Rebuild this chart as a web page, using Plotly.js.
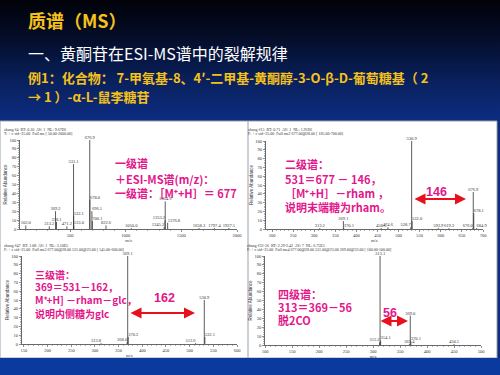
<!DOCTYPE html>
<html><head><meta charset="utf-8">
<script src="https://cdn.plot.ly/plotly-3.0.1.min.js"></script>
<style>
html,body{margin:0;padding:0;width:500px;height:375px;overflow:hidden;
background:linear-gradient(to bottom,#010208 0px,#040c26 35px,#09205c 80px,#0d2d82 121px);}
#chart{width:500px;height:375px;}
</style></head><body><div id="chart"></div>
<script>
// ---------- data ----------
const ms1Mz  = [102.0, 313.2, 369.2, 378.1, 471.2, 531.1, 532.1, 533.0, 676.9, 678.0, 696.1, 700.1, 822.6, 1050.0, 1345.2, 1353.2, 1354.9, 1376.8, 1658.3, 1797.4, 1927.1];
const ms1Int = [4, 3, 20, 8, 3, 73, 15, 4, 100, 33, 20, 9, 4, 1, 2, 10, 31, 7, 1, 1, 1];

const ms2Mz  = [313.2, 369.1, 370.1, 458.6, 474.6, 528.7, 530.9, 532.0, 593.9, 619.3, 676.0, 676.9, 678.1, 684.9];
const ms2Int = [1, 9, 1, 1, 2, 2, 100, 9, 1, 1, 1, 42, 18, 1];

const ms3Mz  = [312.8, 368.0, 369.1, 370.2, 512.6, 530.9, 532.1];
const ms3Int = [1, 2, 100, 8, 1, 50, 8];

const ms4Mz  = [312.2, 313.1, 314.1, 367.4, 369.0, 370.1, 450.1];
const ms4Int = [3, 100, 5, 1, 33, 4, 1];

const headers = [
  ["zhang #4  RT: 0.10  AV: 1  NL: 9.67E6", "T: + c sid=25.00  Full ms [ 50.00-2000.00]"],
  ["zhang #15  RT: 0.71  AV: 1  NL: 1.91E6", "F: + c sid=25.00  Full ms2 677.00@28.00 [ 185.00-700.00]"],
  ["zhang #47  RT: 1.08  AV: 1  NL: 3.10E5", "F: + c sid=25.00  Full ms3 677.00@28.00 531.00@23.00 [ 145.00-600.00]"],
  ["zhang #32-56  RT: 2.29-2.42  AV: 7  NL: 6.75E5", "F: + c sid=25.00  Full ms4 677.00@28.00 531.00@23.00 369.00@33.00 [ 100.00-500.00]"]
];
const xRanges = [[50, 2000], [185, 700], [145, 600], [100, 500]];
const xTickStep = [500, 50, 50, 50];
const yTickStep = 10;

const notes1 = ["一级谱", "＋ESI-MS谱(m/z)：", "一级谱：［M⁺+H］＝ 677"];
const notes2 = ["二级谱：", "531＝677 － 146，", "［M⁺+H］－rham ，", "说明末端糖为rham。"];
const notes3 = ["三级谱：", "369＝531－162，", "M⁺+H] －rham－glc，", "说明内侧糖为glc"];
const notes4 = ["四级谱：", "313＝369－56", "脱2CO"];
const diffLabels = ["146", "162", "56"];

// ---------- helpers ----------
const W = 500, H = 375;
const px = x => x / W;
const py = y => 1 - y / H;
const MAG = '#e3168b', RED = '#e8101c';

function sticks(mz, it) {
  const x = [], y = [];
  mz.forEach((m, i) => { x.push(m, m, null); y.push(0, it[i], null); });
  return {x, y};
}
const spectra = [[ms1Mz, ms1Int], [ms2Mz, ms2Int], [ms3Mz, ms3Int], [ms4Mz, ms4Int]];
const sfx = ['', '2', '3', '4'];
const labelPos = [
  ['top center','top center','top center','top center','top center','top center','top right','top right','top center','top right','top right','top right','top center','top center','top left','top left','top center','top right','top center','top center','top center'],
  ['top center','top center','top right','top center','top center','top left','top center','top right','top center','top center','top left','top center','top right','top right'],
  ['top left','top left','top center','top right','top left','top center','top right'],
  ['top left','top center','top right','top center','top center','top right','top center']
];

const traces = [];
spectra.forEach(([mz, it], k) => {
  const s = sticks(mz, it);
  traces.push({type: 'scatter', mode: 'lines', x: s.x, y: s.y, xaxis: 'x' + sfx[k], yaxis: 'y' + sfx[k],
    line: {color: '#333', width: 0.8}, hoverinfo: 'skip', showlegend: false});
  traces.push({type: 'scatter', mode: 'text', x: mz, y: it, text: mz.map(v => v.toFixed(1)),
    textposition: labelPos[k], textfont: {size: 4.5, family: 'Liberation Serif', color: '#333'},
    xaxis: 'x' + sfx[k], yaxis: 'y' + sfx[k], hoverinfo: 'skip', showlegend: false, cliponaxis: false});
});

// axes geometry (pixels)
const geo = [
  {x0: 20, x1: 237, yb: 229, yt: 140},
  {x0: 265.7, x1: 483, yb: 229, yt: 141},
  {x0: 21.6, x1: 237, yb: 344, yt: 256},
  {x0: 265, x1: 481, yb: 345, yt: 256}
];
const layout = {
  width: W, height: H, margin: {l: 0, r: 0, t: 0, b: 0},
  paper_bgcolor: 'rgba(0,0,0,0)', plot_bgcolor: 'rgba(0,0,0,0)',
  showlegend: false, annotations: [], shapes: []
};
const tf = {size: 4.5, family: 'Liberation Serif', color: '#333'};
geo.forEach((g, k) => {
  layout['xaxis' + sfx[k]] = {
    domain: [px(g.x0), px(g.x1)], range: xRanges[k], anchor: 'y' + sfx[k],
    showline: true, linecolor: '#444', linewidth: 0.8, ticks: 'outside', ticklen: 2, tickwidth: 0.6, tickcolor: '#444',
    dtick: xTickStep[k], tick0: 0, tickfont: tf, showgrid: false, zeroline: false,
    minor: {ticks: 'outside', ticklen: 1, dtick: xTickStep[k] / 5, tickcolor: '#666', tickwidth: 0.5},
    title: {text: 'm/z', font: tf, standoff: 1}
  };
  layout['yaxis' + sfx[k]] = {
    domain: [py(g.yb), py(g.yt)], range: [0, 100], anchor: 'x' + sfx[k],
    showline: true, linecolor: '#444', linewidth: 0.8, ticks: 'outside', ticklen: 2, tickwidth: 0.6, tickcolor: '#444',
    dtick: yTickStep, tickfont: tf, showgrid: false, zeroline: false,
    minor: {ticks: 'outside', ticklen: 1, dtick: 2, tickcolor: '#666', tickwidth: 0.5},
    title: {text: 'Relative Abundance', font: {size: 4.5, family: 'Liberation Sans', color: '#333'}, standoff: 1}
  };
});

// background panels
layout.shapes.push({type: 'rect', xref: 'paper', yref: 'paper', x0: 0, x1: px(497), y0: py(358), y1: py(121),
  fillcolor: '#ffffff', line: {color: '#9aa0a8', width: 1}, layer: 'below'});
layout.shapes.push({type: 'rect', xref: 'paper', yref: 'paper', x0: 0, x1: 1, y0: 0, y1: py(358),
  fillcolor: '#0a3a9e', line: {width: 0}, layer: 'below'});
layout.shapes.push({type: 'line', xref: 'paper', yref: 'paper', x0: px(248), x1: px(248), y0: py(358), y1: py(121),
  line: {color: '#9aa0a8', width: 1}, layer: 'below'});

const A = layout.annotations;
function txt(t, x, y, size, color, bold, family, anchor) {
  A.push({text: bold ? '<b>' + t + '</b>' : t, xref: 'paper', yref: 'paper', x: px(x), y: py(y),
    xanchor: anchor || 'left', yanchor: 'middle', showarrow: false,
    font: {size: size, color: color, family: family || '"Noto Sans CJK SC", sans-serif'}});
}
// slide titles
txt('质谱（MS）', 26, 20, 18, '#f6c21a', true);
txt('一、黄酮苷在ESI-MS谱中的裂解规律', 26, 53, 16, '#ffffff', false);
txt('例1：化合物： 7-甲氧基-8、4′-二甲基-黄酮醇-3-O-β-D-葡萄糖基（ 2', 26, 77, 13, '#f6c21a', true);
txt('→ 1 ）-α-L-鼠李糖苷', 26, 97, 13, '#f6c21a', true);

// panel headers
const hpos = [[2, 129], [246, 129], [2, 245], [245, 245]];
headers.forEach((h, k) => {
  txt(h[0], hpos[k][0], hpos[k][1], 4, '#333', false, 'Liberation Serif');
  txt(h[1], hpos[k][0], hpos[k][1] + 4.5, 4, '#333', false, 'Liberation Serif');
});

// magenta notes
[[notes1, 113, [163, 179, 193], 11], [notes2, 283, [164, 179, 193, 207], 11],
 [notes3, 33, [274, 286, 299, 313], 10], [notes4, 276, [294, 307, 320], 11]].forEach(([arr, x, ys, sz]) => {
  arr.forEach((t, i) => txt(t, x, ys[i], sz, MAG, true));
});

// differences with red double arrows
const diffs = [[436, 192, 413, 466, 199], [164, 298, 129, 195, 313], [390, 313, 379, 408, 321]];
diffs.forEach((d, i) => {
  txt(diffLabels[i], d[0], d[1], 12.5, MAG, true, 'Liberation Sans', 'center');
  A.push({xref: 'paper', yref: 'paper', x: px(d[3]), y: py(d[4]), ax: d[2] - d[3], ay: 0, text: '',
    showarrow: true, arrowhead: 2, startarrowhead: 2, arrowside: 'end+start', arrowsize: 1, startarrowsize: 1,
    arrowwidth: 2.2, arrowcolor: RED, standoff: 0, startstandoff: 0});
});

Plotly.newPlot('chart', traces, layout, {staticPlot: true, displayModeBar: false});
</script></body></html>
